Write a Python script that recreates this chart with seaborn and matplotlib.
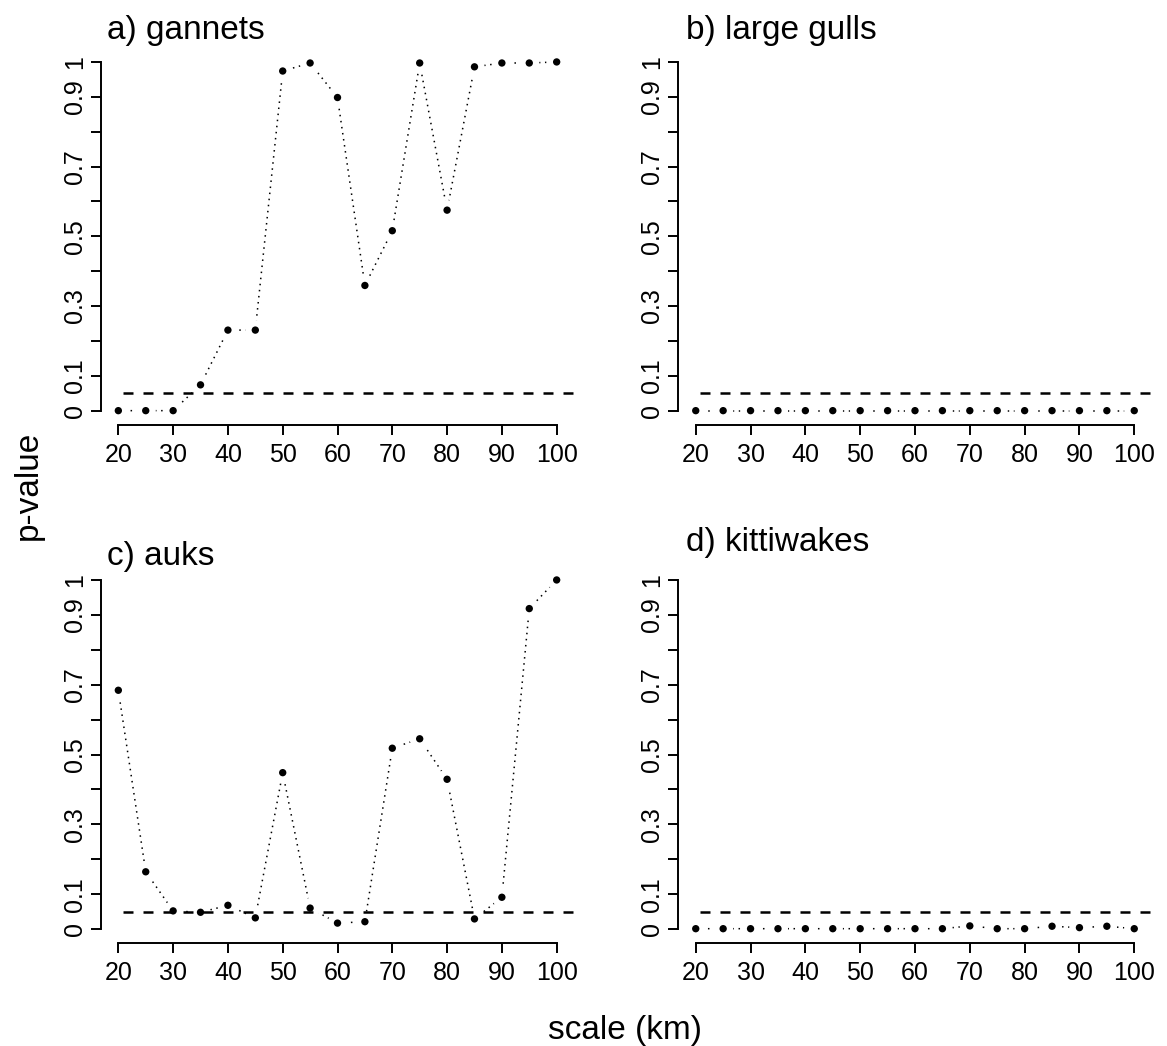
import numpy as np
import pandas as pd
import matplotlib
matplotlib.use("Agg")
import matplotlib.pyplot as plt
import seaborn as sns

# scales (km) and p-values
scale = [20, 25, 30, 35, 40, 45, 50, 55, 60, 65, 70, 75, 80, 85, 90, 95, 100]

gannets = [0.0, 0.0, 0.0, 0.074, 0.231, 0.231, 0.974, 0.997, 0.898, 0.359,
           0.516, 0.997, 0.575, 0.986, 0.997, 0.997, 1.0]
large_gulls = [0.0] * 17
auks = [0.684, 0.164, 0.052, 0.048, 0.068, 0.032, 0.448, 0.060, 0.017, 0.021,
        0.518, 0.545, 0.429, 0.029, 0.091, 0.918, 1.0]
kittiwakes = [0.001, 0.001, 0.001, 0.001, 0.001, 0.001, 0.001, 0.001, 0.001,
              0.001, 0.009, 0.001, 0.001, 0.008, 0.004, 0.008, 0.001]

titles = ["a) gannets", "b) large gulls", "c) auks", "d) kittiwakes"]
threshold = 0.05

yticks = [0, 0.1, 0.2, 0.3, 0.4, 0.5, 0.6, 0.7, 0.8, 0.9, 1.0]
ytick_labels = ["0", "0.1", "", "0.3", "", "0.5", "", "0.7", "", "0.9", "1"]
xticks = [20, 30, 40, 50, 60, 70, 80, 90, 100]

sns.set_theme(style="white")
plt.rcParams["font.family"] = ["Liberation Sans", "DejaVu Sans"]

W, H = 1167, 1046
fig = plt.figure(figsize=(W / 100, H / 100), dpi=100)

# axes boxes in pixels: (left, top, right, bottom)
boxes = [(100.8, 48.0, 574.2, 424.6), (678.2, 48.0, 1151.8, 424.6),
         (100.8, 566.0, 574.2, 943.0), (678.2, 566.0, 1151.8, 943.0)]
title_pos = [(107, 30), (686, 30), (107, 557), (686, 543)]
series = [gannets, large_gulls, auks, kittiwakes]

for vals, box, title, tpos in zip(series, boxes, titles, title_pos):
    l, t, r, b = box
    ax = fig.add_axes([l / W, 1 - b / H, (r - l) / W, (b - t) / H])
    df = pd.DataFrame({"scale": scale, "p": vals})

    sns.lineplot(data=df, x="scale", y="p", ax=ax, color="black", lw=1.1,
                 linestyle=(0, (1, 3)), estimator=None, sort=False, zorder=2)
    # white halos give the R type="b" gaps around points
    sns.scatterplot(data=df, x="scale", y="p", ax=ax, s=210, color="white",
                    edgecolor="none", linewidth=0, zorder=3)
    sns.scatterplot(data=df, x="scale", y="p", ax=ax, s=28, color="black",
                    edgecolor="none", linewidth=0, zorder=4)
    ax.axhline(threshold, xmin=(20.8 - 16.8) / 86.4, xmax=1, color="black",
               lw=1.8, linestyle=(0, (4, 4)), zorder=5)

    ax.set_xlim(16.8, 103.2)
    ax.set_ylim(-0.04, 1.04)
    ax.set_xticks(xticks)
    ax.set_xticklabels([str(x) for x in xticks])
    ax.set_yticks(yticks)
    ax.set_yticklabels(ytick_labels, rotation=90, va="center")
    ax.set_xlabel("")
    ax.set_ylabel("")

    for side in ["top", "right"]:
        ax.spines[side].set_visible(False)
    for side in ["left", "bottom"]:
        ax.spines[side].set_color("black")
        ax.spines[side].set_linewidth(1.4)
    ax.spines["left"].set_bounds(0, 1)
    ax.spines["bottom"].set_bounds(20, 100)
    ax.tick_params(axis="both", direction="out", length=7.2, width=1.4,
                   color="black", labelsize=18, labelcolor="black")
    ax.tick_params(axis="x", pad=6, bottom=True)
    ax.tick_params(axis="y", pad=3, left=True)
    ax.set_facecolor("white")

    fig.text(tpos[0] / W, 1 - tpos[1] / H, title, fontsize=24,
             ha="left", va="center", color="black")

fig.text(28 / W, 1 - 485 / H, "p-value", fontsize=24, rotation=90,
         ha="center", va="center", color="black")
fig.text(625 / W, 1 - 1031 / H, "scale (km)", fontsize=24,
         ha="center", va="center", color="black")

fig.savefig("out.png", dpi=100, facecolor="white")
